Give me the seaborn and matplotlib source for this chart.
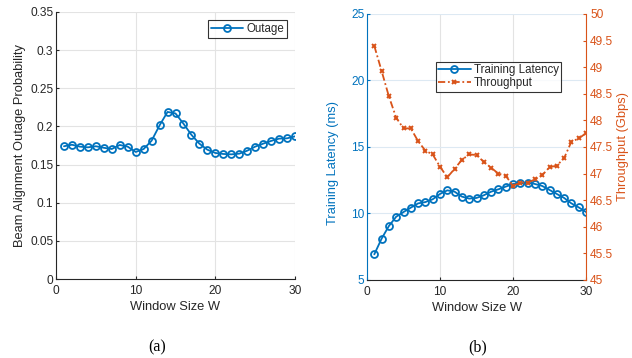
import numpy as np
import pandas as pd
import matplotlib
matplotlib.use('Agg')
import matplotlib.pyplot as plt
import seaborn as sns

# window sizes 1..30
window = list(range(1, 31))

outage = [0.174, 0.176, 0.1735, 0.1726, 0.174, 0.172, 0.1704, 0.1757, 0.1735, 0.1665,
          0.1704, 0.1813, 0.2014, 0.219, 0.217, 0.2036, 0.189, 0.1774, 0.1695, 0.1652,
          0.1639, 0.1634, 0.1643, 0.1682, 0.1735, 0.1774, 0.181, 0.184, 0.1844, 0.187]

latency = [6.93, 8.11, 9.06, 9.76, 10.11, 10.44, 10.76, 10.86, 11.07, 11.47,
           11.74, 11.64, 11.27, 11.12, 11.17, 11.37, 11.64, 11.82, 12.02, 12.22,
           12.27, 12.32, 12.22, 12.07, 11.77, 11.47, 11.17, 10.76, 10.46, 10.11]

throughput = [49.40, 48.93, 48.45, 48.05, 47.85, 47.85, 47.61, 47.43, 47.36, 47.13,
              46.93, 47.09, 47.26, 47.36, 47.35, 47.22, 47.11, 47.00, 46.96, 46.77,
              46.83, 46.83, 46.89, 46.97, 47.12, 47.15, 47.29, 47.60, 47.66, 47.76]

blue = '#0072BD'
orange = '#D95319'
txt = '#262626'

sns.set_style('white')
plt.rcParams['font.family'] = ['Liberation Sans', 'DejaVu Sans']
plt.rcParams['xtick.direction'] = 'in'
plt.rcParams['ytick.direction'] = 'in'
plt.rcParams['xtick.major.size'] = 2.5
plt.rcParams['ytick.major.size'] = 2.5

df = pd.DataFrame({'W': window, 'outage': outage, 'latency': latency, 'throughput': throughput})

fig = plt.figure(figsize=(6.32, 3.58), dpi=100)
W, H = 632, 358
ax1 = fig.add_axes([56 / W, 1 - 279 / H, 239 / W, 267 / H])
ax2 = fig.add_axes([367 / W, 1 - 280 / H, 219 / W, 266 / H])

tick_fs = 8.6
lab_fs = 9.3
leg_fs = 8.3

# ---- (a) outage
sns.lineplot(data=df, x='W', y='outage', ax=ax1, color=blue, marker='o', markersize=5,
             markerfacecolor='none', markeredgecolor=blue, markeredgewidth=1.3,
             linewidth=1.3, label='Outage')
ax1.set_xlim(0, 30)
ax1.set_ylim(0, 0.35)
ax1.set_xticks([0, 10, 20, 30])
ax1.set_yticks(np.arange(0, 0.351, 0.05))
ax1.set_yticklabels(['0', '0.05', '0.1', '0.15', '0.2', '0.25', '0.3', '0.35'])
ax1.grid(True, color='#e3e3e3', linewidth=0.8)
ax1.set_axisbelow(True)
for s in ['top', 'right']:
    ax1.spines[s].set_visible(False)
for s in ['left', 'bottom']:
    ax1.spines[s].set_color(txt)
    ax1.spines[s].set_linewidth(0.8)
ax1.tick_params(axis='x', colors=txt, labelsize=tick_fs, pad=4, bottom=True)
ax1.tick_params(axis='y', colors=txt, labelsize=tick_fs, pad=2, left=True)
ax1.set_xlabel('Window Size W', color=txt, fontsize=lab_fs, labelpad=3)
ax1.set_ylabel('Beam Alignment Outage Probability', color=txt, fontsize=lab_fs, labelpad=3)
leg = ax1.legend(loc='upper right', fontsize=leg_fs, frameon=True, fancybox=False,
                 handlelength=2.8, borderpad=0.25, handletextpad=0.3, borderaxespad=0,
                 bbox_to_anchor=(0.967, 0.97))
leg.get_frame().set_edgecolor('black')
leg.get_frame().set_linewidth(0.8)

# ---- (b) latency + throughput
ax3 = ax2.twinx()
sns.lineplot(data=df, x='W', y='latency', ax=ax2, color=blue, marker='o', markersize=5,
             markerfacecolor='none', markeredgecolor=blue, markeredgewidth=1.3,
             linewidth=1.3, label='Training Latency', legend=False)
sns.lineplot(data=df, x='W', y='throughput', ax=ax3, color=orange, marker='x', markersize=3.5,
             markeredgecolor=orange, markeredgewidth=1.4, linewidth=1.3,
             linestyle=(0, (4, 1.5, 1, 1.5)), label='Throughput', legend=False)
ax2.set_xlim(0, 30)
ax2.set_ylim(5, 25)
ax3.set_ylim(45, 50)
ax2.set_xticks([0, 10, 20, 30])
ax2.set_yticks([5, 10, 15, 20, 25])
ax3.set_yticks(np.arange(45, 50.01, 0.5))
ax3.set_yticklabels(['45', '45.5', '46', '46.5', '47', '47.5', '48', '48.5', '49', '49.5', '50'])
ax2.xaxis.grid(True, color='#e3e3e3', linewidth=0.8)
ax2.yaxis.grid(True, color='#dde9f3', linewidth=0.8)
ax2.set_axisbelow(True)
for a in (ax2, ax3):
    a.spines['top'].set_visible(False)
ax2.spines['right'].set_visible(False)
ax2.spines['left'].set_color(blue)
ax2.spines['bottom'].set_color(txt)
ax3.spines['left'].set_visible(False)
ax3.spines['bottom'].set_visible(False)
ax3.spines['right'].set_color(orange)
for s in ['left', 'bottom']:
    ax2.spines[s].set_linewidth(0.8)
ax3.spines['right'].set_linewidth(0.8)
ax2.tick_params(axis='x', colors=txt, labelsize=tick_fs, pad=4, bottom=True)
ax2.tick_params(axis='y', colors=blue, labelsize=tick_fs, pad=2, left=True)
ax3.tick_params(axis='y', colors=orange, labelsize=tick_fs, pad=3, right=True)
ax2.set_xlabel('Window Size W', color=txt, fontsize=lab_fs, labelpad=3)
ax2.set_ylabel('Training Latency (ms)', color=blue, fontsize=lab_fs)
ax2.yaxis.set_label_coords(-0.13, 0.44)
ax3.set_ylabel('Throughput (Gbps)', color=orange, fontsize=lab_fs, labelpad=3)
h1, l1 = ax2.get_legend_handles_labels()
h2, l2 = ax3.get_legend_handles_labels()
leg2 = ax3.legend(h1 + h2, l1 + l2, loc='upper left', fontsize=leg_fs, frameon=True, fancybox=False,
                  handlelength=2.8, borderpad=0.2, handletextpad=0.3, labelspacing=0.1,
                  borderaxespad=0, bbox_to_anchor=(0.315, 0.82))
leg2.get_frame().set_edgecolor('black')
leg2.get_frame().set_linewidth(0.8)

fig.text(157 / W, 1 - 347 / H, '(a)', ha='center', va='center', fontsize=11.5,
         family='Liberation Serif', color='black')
fig.text(478 / W, 1 - 347 / H, '(b)', ha='center', va='center', fontsize=11.5,
         family='Liberation Serif', color='black')

fig.savefig('out.png', dpi=100)
